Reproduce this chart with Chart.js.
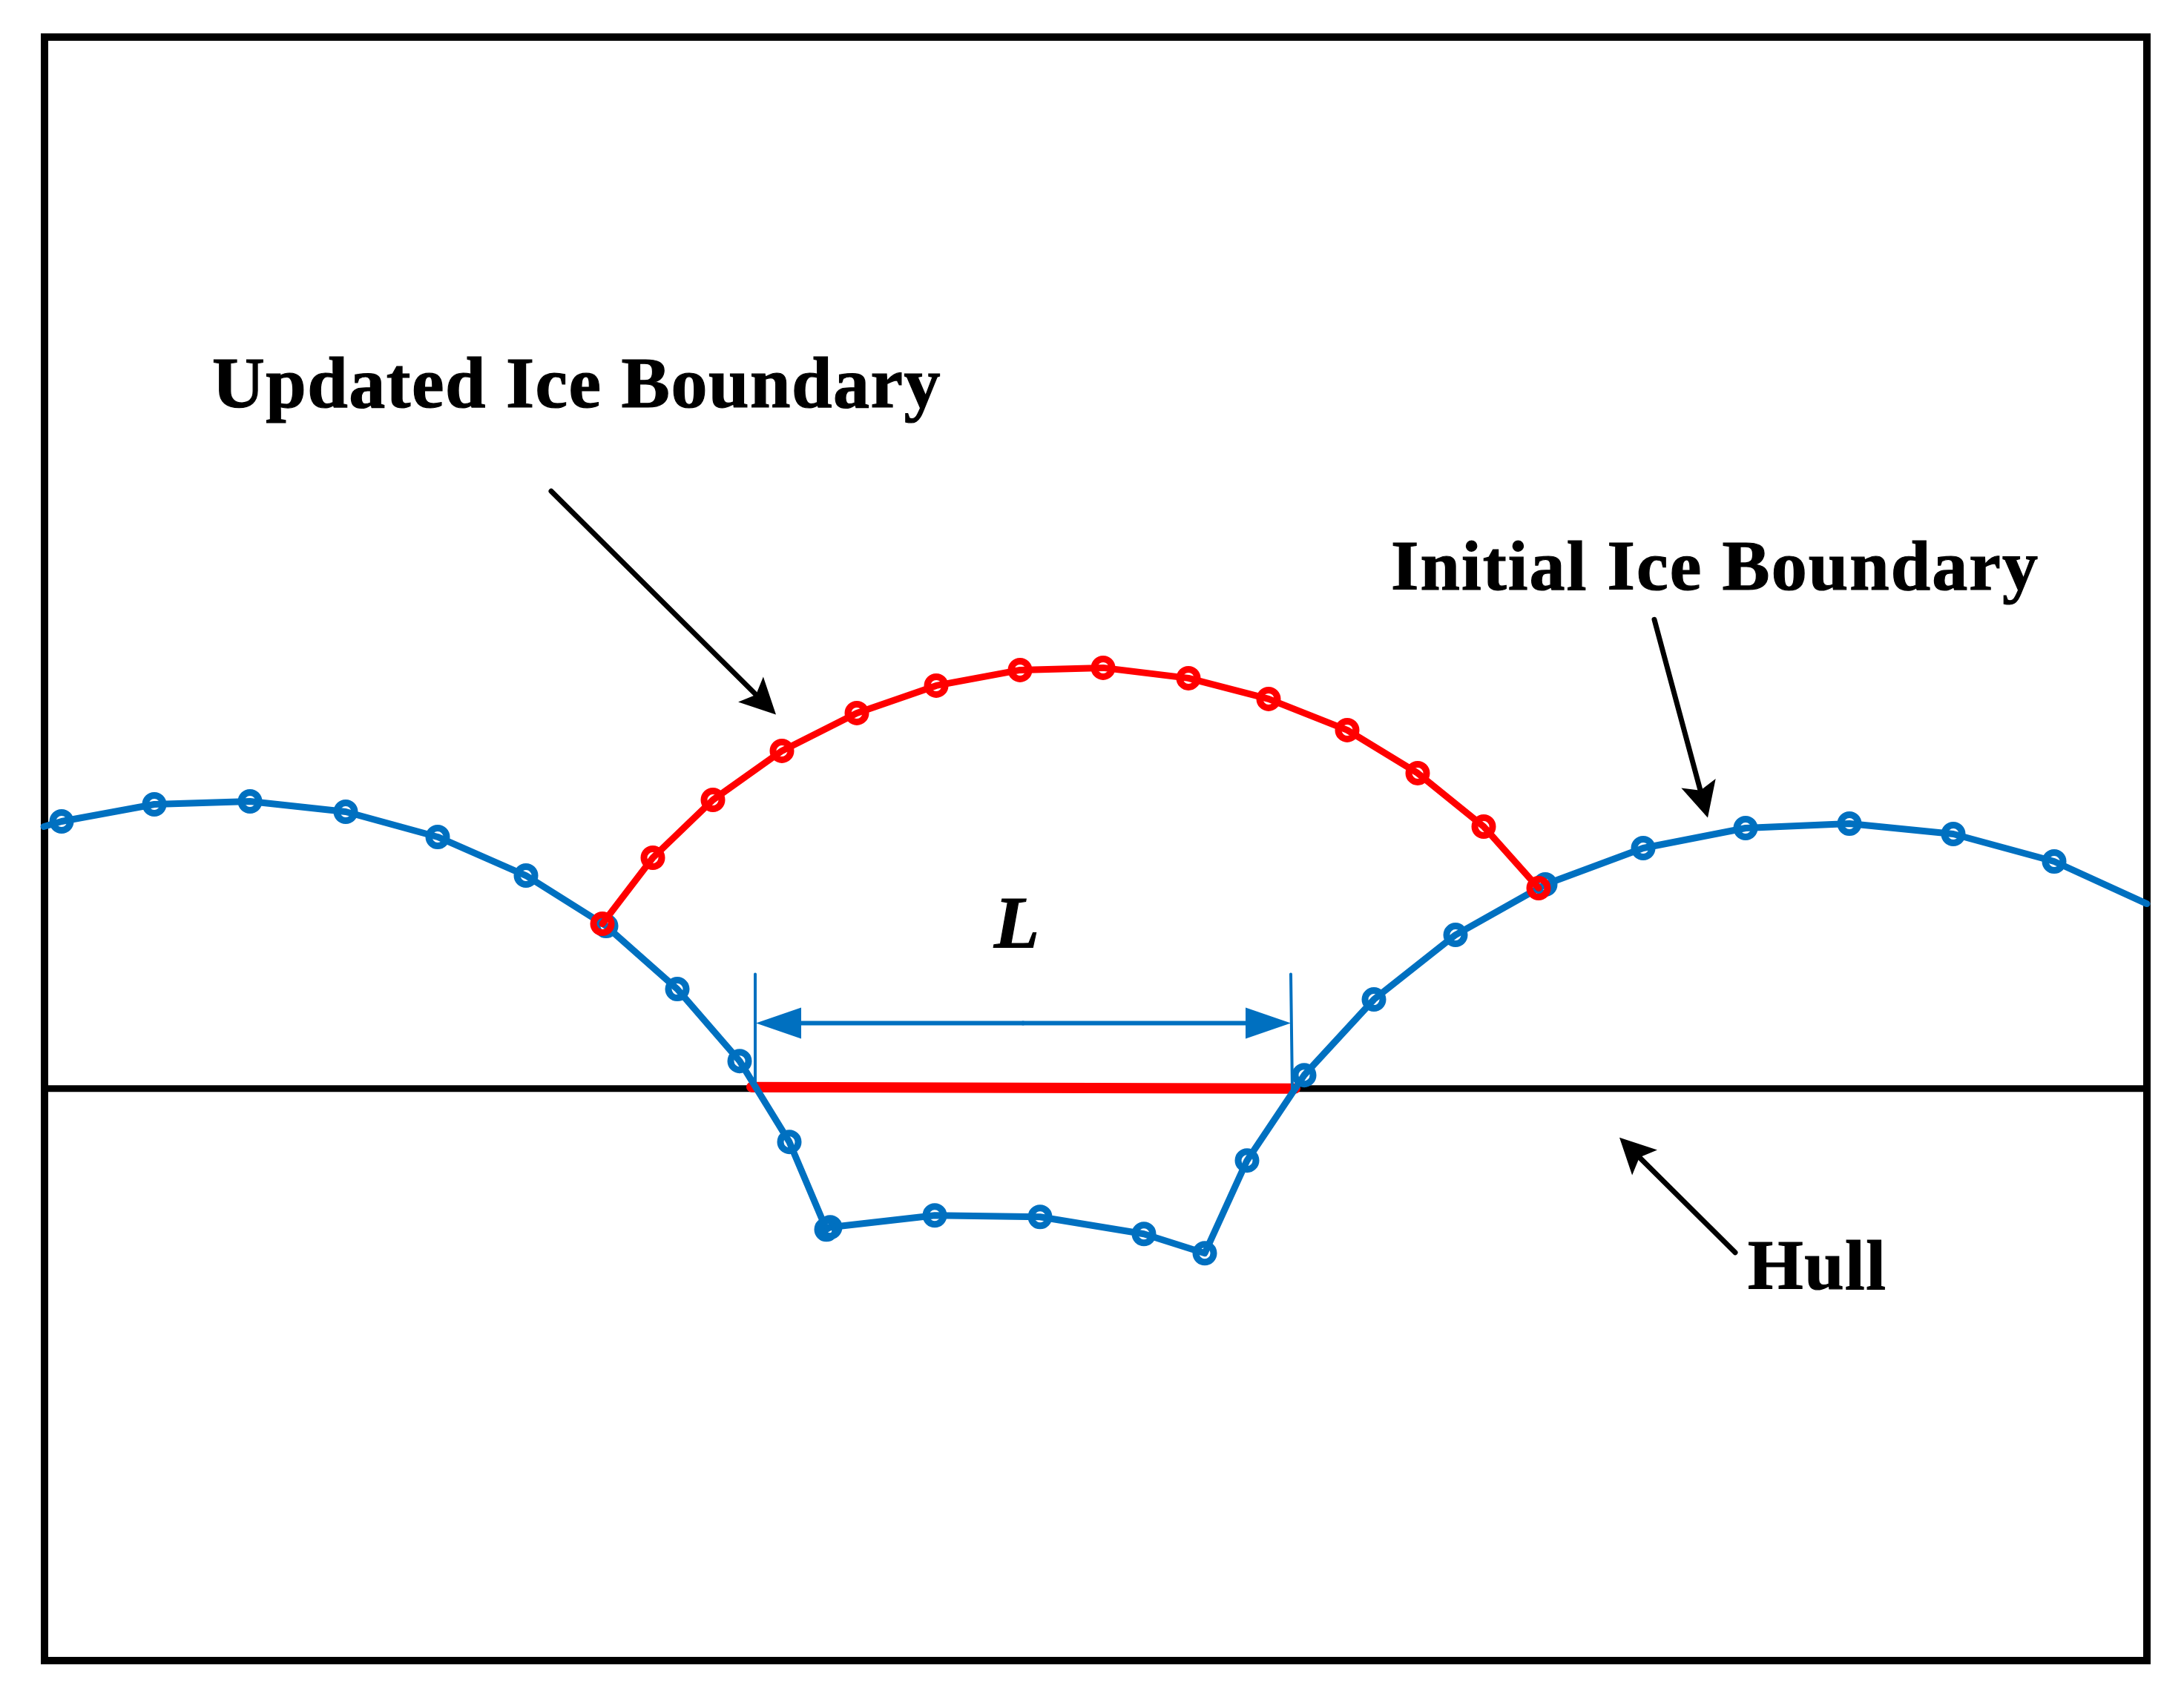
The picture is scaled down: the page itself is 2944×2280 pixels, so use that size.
<!DOCTYPE html>
<html>
<head>
<meta charset="utf-8">
<title>Ice boundary</title>
<script src="https://cdn.jsdelivr.net/npm/chart.js@4"></script>
<style>
  html, body { margin: 0; padding: 0; background: #fff; }
  canvas { display: block; }
</style>
</head>
<body>
<canvas id="chart" width="2944" height="2280"></canvas>
<script>
// x = distance from left of the frame, y = height above the hull line
const initialX = [-1, 23, 148, 277, 406, 530, 649, 757, 853, 937, 1004, 1054, 1059, 1200, 1342, 1482, 1564, 1621, 1698, 1792, 1902, 2023, 2155, 2293, 2433, 2573, 2709, 2834];
const initialY = [353, 360, 383, 387, 373, 339, 287, 219, 134, 37, -72, -190, -187, -171, -173, -196, -222, -97, 18, 120, 207, 275, 324, 351, 357, 343, 306, 249];

const updatedX = [752, 820, 901, 994, 1095, 1202, 1315, 1427, 1542, 1650, 1756, 1851, 1940, 2014];
const updatedY = [222, 311, 389, 455, 506, 543, 564, 567, 553, 525, 483, 425, 353, 270];

const hullX = [0, 2834];
const hullY = [0, 0];
const openingX = [953, 1686];
const openingY = [2, 0];

const dimLeftX = [958, 958];
const dimLeftY = [154, 1];
const dimRightX = [1680, 1682];
const dimRightY = [154, -2];

const xMin = 0, xMax = 2834, yMin = -771, yMax = 1417;
const BLUE = "#0070C0", RED = "#FF0000";

// [x1, y1, x2, y2], head is at x2, y2
const pointerArrows = [
  [683, 805, 986, 504],
  [2170, 632, 2242, 365],
  [2279, -221, 2123, -66],
];
const dimArrows = [
  [1319, 88, 959, 88],
  [1319, 88, 1680, 88],
];

const labels = ["Updated Ice Boundary", "Initial Ice Boundary", "Hull", "L"];
const labelX = [226, 1815, 2296, 1280];
const labelY = [918, 672, -270, 191];
const labelFonts = ["bold 98px", "bold 96px", "bold 96px", "italic bold 100px"];
const labelSpacing = ["1.5px", "2.1px", "1.5px", "0px"];

function toPoints(xs, ys) {
  return xs.map((x, i) => ({ x: x, y: ys[i] }));
}

function drawArrow(c, scales, a, head, color, width) {
  const x1 = scales.x.getPixelForValue(a[0]);
  const y1 = scales.y.getPixelForValue(a[1]);
  const x2 = scales.x.getPixelForValue(a[2]);
  const y2 = scales.y.getPixelForValue(a[3]);
  const len = Math.hypot(x2 - x1, y2 - y1);
  const ux = (x2 - x1) / len, uy = (y2 - y1) / len;
  c.strokeStyle = color;
  c.fillStyle = color;
  c.lineWidth = width;
  c.lineCap = "round";
  c.beginPath();
  c.moveTo(x1, y1);
  c.lineTo(x2 - ux * head.notch, y2 - uy * head.notch);
  c.stroke();
  c.beginPath();
  c.moveTo(x2, y2);
  c.lineTo(x2 - ux * head.len - uy * head.half, y2 - uy * head.len + ux * head.half);
  c.lineTo(x2 - ux * head.notch, y2 - uy * head.notch);
  c.lineTo(x2 - ux * head.len + uy * head.half, y2 - uy * head.len - ux * head.half);
  c.closePath();
  c.fill();
}

const framePlugin = {
  id: "frame",
  beforeDatasetsDraw(chart) {
    const a = chart.chartArea, c = chart.ctx;
    c.save();
    c.strokeStyle = "#000";
    c.lineWidth = 10;
    c.strokeRect(a.left, a.top, a.right - a.left, a.bottom - a.top);
    c.restore();
  },
};

const notesPlugin = {
  id: "notes",
  afterDatasetsDraw(chart) {
    const c = chart.ctx, scales = chart.scales;
    c.save();
    pointerArrows.forEach(a => drawArrow(c, scales, a, { len: 48, half: 24, notch: 38 }, "#000", 7));
    dimArrows.forEach(a => drawArrow(c, scales, a, { len: 61, half: 21, notch: 61 }, BLUE, 6));
    c.fillStyle = "#000";
    c.strokeStyle = "#000";
    c.lineWidth = 1.2;
    c.textAlign = "left";
    c.textBaseline = "alphabetic";
    labels.forEach((t, i) => {
      const px = scales.x.getPixelForValue(labelX[i]);
      const py = scales.y.getPixelForValue(labelY[i]);
      c.font = labelFonts[i] + ' "Liberation Serif"';
      c.letterSpacing = labelSpacing[i];
      c.fillText(t, px, py);
      c.strokeText(t, px, py);
    });
    c.restore();
  },
};

const base = { showLine: true, clip: false, pointRadius: 0, borderCapStyle: "round", borderJoinStyle: "round", tension: 0 };

new Chart(document.getElementById("chart"), {
  type: "scatter",
  data: {
    datasets: [
      { ...base, label: "Hull", data: toPoints(hullX, hullY), borderColor: "#000", borderWidth: 9, borderCapStyle: "butt", order: 5 },
      { ...base, label: "Opening", data: toPoints(openingX, openingY), borderColor: RED, borderWidth: 14, order: 4 },
      {
        ...base,
        label: "Initial Ice Boundary",
        data: toPoints(initialX, initialY),
        borderColor: BLUE,
        borderWidth: 9,
        pointBorderColor: BLUE,
        pointBackgroundColor: "rgba(255,255,255,0)",
        pointBorderWidth: 9,
        // first and last vertex sit on the frame, no marker there
        pointRadius: c => (c.dataIndex === 0 || c.dataIndex === initialX.length - 1 ? 0 : 12),
        order: 3,
      },
      { ...base, label: "Left limit", data: toPoints(dimLeftX, dimLeftY), borderColor: BLUE, borderWidth: 4, order: 2 },
      { ...base, label: "Right limit", data: toPoints(dimRightX, dimRightY), borderColor: BLUE, borderWidth: 4, order: 2 },
      {
        ...base,
        label: "Updated Ice Boundary",
        data: toPoints(updatedX, updatedY),
        borderColor: RED,
        borderWidth: 9,
        pointBorderColor: RED,
        pointBackgroundColor: "rgba(255,255,255,0)",
        pointBorderWidth: 9,
        pointRadius: 12,
        order: 1,
      },
    ],
  },
  options: {
    responsive: false,
    animation: false,
    layout: { padding: { left: 60, top: 50, right: 50, bottom: 41 } },
    plugins: { legend: { display: false }, tooltip: { enabled: false } },
    scales: {
      x: { type: "linear", display: false, min: xMin, max: xMax },
      y: { type: "linear", display: false, min: yMin, max: yMax },
    },
  },
  plugins: [framePlugin, notesPlugin],
});
</script>
</body>
</html>
